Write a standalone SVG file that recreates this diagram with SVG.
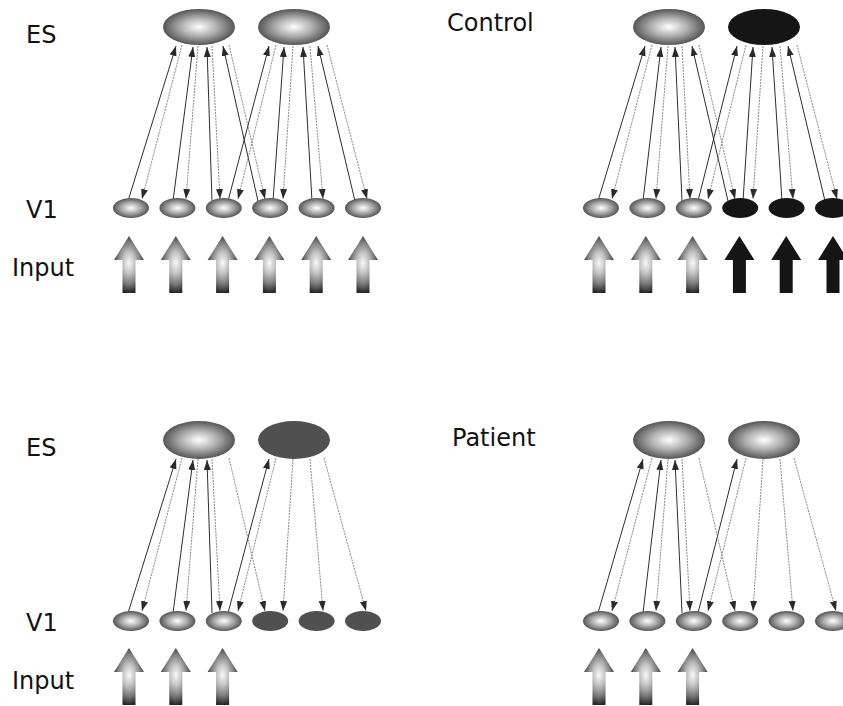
<svg xmlns="http://www.w3.org/2000/svg" xmlns:xlink="http://www.w3.org/1999/xlink" width="843" height="706" viewBox="0 0 843 706">
  <style>
    .lbl { font-family: "DejaVu Sans", "Liberation Sans", sans-serif; font-size: 24px; fill: #111; }
    .sph { fill: url(#sphere); }
    .black { fill: #151515; }
    .dim { fill: #505050; }
    .ff { stroke: #2e2e2e; stroke-width: 1; fill: none; marker-end: url(#tip); }
    .fb { stroke: #7a7a7a; stroke-width: 0.9; stroke-dasharray: 2 1; fill: none; marker-end: url(#tip); }
    .in-shade { fill: url(#arrowShade); }
    .in-black { fill: #151515; }
  </style>
  <defs>
    <radialGradient id="sphere" cx="0.5" cy="0.5" r="0.5">
      <stop offset="0" stop-color="#ffffff"/>
      <stop offset="0.5" stop-color="#b0b0b0"/>
      <stop offset="1" stop-color="#555"/>
    </radialGradient>
    <radialGradient id="arrowShade" gradientUnits="userSpaceOnUse" cx="0" cy="27" r="30" gradientTransform="translate(0,27) scale(0.55,1) translate(0,-27)">
      <stop offset="0" stop-color="#f8f8f8"/>
      <stop offset="0.35" stop-color="#c4c4c4"/>
      <stop offset="0.7" stop-color="#7a7a7a"/>
      <stop offset="1" stop-color="#262626"/>
    </radialGradient>
    <marker id="tip" markerUnits="userSpaceOnUse" markerWidth="11" markerHeight="8" refX="10" refY="3.5" orient="auto">
      <path d="M0,0 L10,3.5 L0,7 Z" fill="#2a2a2a"/>
    </marker>
    <!-- input arrow, tip at the origin -->
    <path id="in-arrow" d="M0,0 L15,24 L6.5,24 L6.5,57 L-6.5,57 L-6.5,24 L-15,24 Z"/>
  </defs>

  <rect width="843" height="706" fill="#fff"/>

  <!-- row labels -->
  <text class="lbl" x="26" y="43">ES</text>
  <text class="lbl" x="26" y="218">V1</text>
  <text class="lbl" x="12" y="276">Input</text>
  <text class="lbl" x="447" y="31">Control</text>
  <text class="lbl" x="26" y="456">ES</text>
  <text class="lbl" x="26" y="631">V1</text>
  <text class="lbl" x="12" y="689">Input</text>
  <text class="lbl" x="452" y="446">Patient</text>

  <!-- connectors: solid = V1 to ES, dashed = ES to V1 -->
  <g id="connectors">
    <g id="conn-a">
      <line class="ff" x1="128" y1="201" x2="176" y2="46"/>
      <line class="ff" x1="173" y1="201" x2="193" y2="47"/>
      <line class="ff" x1="212" y1="201" x2="207" y2="47"/>
      <line class="ff" x1="258" y1="201" x2="223" y2="46"/>
      <line class="ff" x1="228" y1="201" x2="269" y2="46"/>
      <line class="ff" x1="273" y1="201" x2="284" y2="47"/>
      <line class="ff" x1="312" y1="201" x2="303" y2="47"/>
      <line class="ff" x1="355" y1="201" x2="318" y2="46"/>
      <line class="fb" x1="182" y1="45" x2="142" y2="199"/>
      <line class="fb" x1="198" y1="46" x2="186" y2="199"/>
      <line class="fb" x1="212" y1="46" x2="220" y2="199"/>
      <line class="fb" x1="229" y1="45" x2="265" y2="199"/>
      <line class="fb" x1="276" y1="45" x2="238" y2="199"/>
      <line class="fb" x1="293" y1="46" x2="283" y2="199"/>
      <line class="fb" x1="310" y1="46" x2="323" y2="199"/>
      <line class="fb" x1="327" y1="45" x2="367" y2="199"/>
    </g>
    <g id="conn-b" transform="translate(470,0)">
      <line class="ff" x1="128" y1="201" x2="175" y2="46"/>
      <line class="ff" x1="173" y1="201" x2="191" y2="47"/>
      <line class="ff" x1="212" y1="201" x2="205" y2="47"/>
      <line class="ff" x1="258" y1="201" x2="222" y2="46"/>
      <line class="ff" x1="228" y1="201" x2="267" y2="46"/>
      <line class="ff" x1="273" y1="201" x2="283" y2="47"/>
      <line class="ff" x1="312" y1="201" x2="302" y2="47"/>
      <line class="ff" x1="355" y1="201" x2="318" y2="46"/>
      <line class="fb" x1="182" y1="45" x2="142" y2="199"/>
      <line class="fb" x1="198" y1="46" x2="186" y2="199"/>
      <line class="fb" x1="212" y1="46" x2="220" y2="199"/>
      <line class="fb" x1="229" y1="45" x2="265" y2="199"/>
      <line class="fb" x1="276" y1="45" x2="238" y2="199"/>
      <line class="fb" x1="293" y1="46" x2="283" y2="199"/>
      <line class="fb" x1="310" y1="46" x2="323" y2="199"/>
      <line class="fb" x1="327" y1="45" x2="367" y2="199"/>
    </g>
    <g id="conn-c" transform="translate(0,413)">
      <line class="ff" x1="128" y1="200" x2="176" y2="46"/>
      <line class="ff" x1="173" y1="200" x2="193" y2="47"/>
      <line class="ff" x1="212" y1="200" x2="207" y2="47"/>
      <line class="ff" x1="228" y1="200" x2="269" y2="46"/>
      <line class="fb" x1="182" y1="45" x2="142" y2="198"/>
      <line class="fb" x1="198" y1="46" x2="186" y2="198"/>
      <line class="fb" x1="212" y1="46" x2="220" y2="198"/>
      <line class="fb" x1="229" y1="45" x2="265" y2="198"/>
      <line class="fb" x1="276" y1="45" x2="238" y2="198"/>
      <line class="fb" x1="293" y1="46" x2="283" y2="198"/>
      <line class="fb" x1="310" y1="46" x2="323" y2="198"/>
      <line class="fb" x1="324" y1="45" x2="366" y2="198"/>
    </g>
    <g id="conn-d" transform="translate(470,413)">
      <line class="ff" x1="128" y1="200" x2="173" y2="46"/>
      <line class="ff" x1="173" y1="200" x2="191" y2="47"/>
      <line class="ff" x1="212" y1="200" x2="205" y2="47"/>
      <line class="ff" x1="228" y1="200" x2="267" y2="46"/>
      <line class="fb" x1="182" y1="45" x2="142" y2="198"/>
      <line class="fb" x1="198" y1="46" x2="186" y2="198"/>
      <line class="fb" x1="212" y1="46" x2="220" y2="198"/>
      <line class="fb" x1="229" y1="45" x2="265" y2="198"/>
      <line class="fb" x1="276" y1="45" x2="238" y2="198"/>
      <line class="fb" x1="293" y1="46" x2="283" y2="198"/>
      <line class="fb" x1="310" y1="46" x2="323" y2="198"/>
      <line class="fb" x1="324" y1="45" x2="366" y2="198"/>
    </g>
  </g>

  <!-- top-left panel -->
  <g id="a-es1"><ellipse class="sph" cx="199" cy="27" rx="36" ry="18"/></g>
  <g id="a-es2"><ellipse class="sph" cx="294" cy="27" rx="36" ry="18"/></g>
  <g id="a-v1-1"><ellipse class="sph" cx="131" cy="208" rx="18" ry="10"/></g>
  <g id="a-v1-2"><ellipse class="sph" cx="177.4" cy="208" rx="18" ry="10"/></g>
  <g id="a-v1-3"><ellipse class="sph" cx="223.8" cy="208" rx="18" ry="10"/></g>
  <g id="a-v1-4"><ellipse class="sph" cx="270.2" cy="208" rx="18" ry="10"/></g>
  <g id="a-v1-5"><ellipse class="sph" cx="316.6" cy="208" rx="18" ry="10"/></g>
  <g id="a-v1-6"><ellipse class="sph" cx="363" cy="208" rx="18" ry="10"/></g>
  <g id="a-in-1"><use href="#in-arrow" class="in-shade" transform="translate(129,236)"/></g>
  <g id="a-in-2"><use href="#in-arrow" class="in-shade" transform="translate(175.8,236)"/></g>
  <g id="a-in-3"><use href="#in-arrow" class="in-shade" transform="translate(222.6,236)"/></g>
  <g id="a-in-4"><use href="#in-arrow" class="in-shade" transform="translate(269.4,236)"/></g>
  <g id="a-in-5"><use href="#in-arrow" class="in-shade" transform="translate(316.2,236)"/></g>
  <g id="a-in-6"><use href="#in-arrow" class="in-shade" transform="translate(363,236)"/></g>

  <!-- top-right panel -->
  <g id="b-es1"><ellipse class="sph" cx="669" cy="27" rx="36" ry="18"/></g>
  <g id="b-es2"><ellipse class="black" cx="764" cy="27" rx="36" ry="18"/></g>
  <g id="b-v1-1"><ellipse class="sph" cx="601" cy="208" rx="18" ry="10"/></g>
  <g id="b-v1-2"><ellipse class="sph" cx="647.4" cy="208" rx="18" ry="10"/></g>
  <g id="b-v1-3"><ellipse class="sph" cx="693.8" cy="208" rx="18" ry="10"/></g>
  <g id="b-v1-4"><ellipse class="black" cx="740.2" cy="208" rx="18" ry="10"/></g>
  <g id="b-v1-5"><ellipse class="black" cx="786.6" cy="208" rx="18" ry="10"/></g>
  <g id="b-v1-6"><ellipse class="black" cx="833" cy="208" rx="18" ry="10"/></g>
  <g id="b-in-1"><use href="#in-arrow" class="in-shade" transform="translate(599,236)"/></g>
  <g id="b-in-2"><use href="#in-arrow" class="in-shade" transform="translate(645.8,236)"/></g>
  <g id="b-in-3"><use href="#in-arrow" class="in-shade" transform="translate(692.6,236)"/></g>
  <g id="b-in-4"><use href="#in-arrow" class="in-black" transform="translate(739.4,236)"/></g>
  <g id="b-in-5"><use href="#in-arrow" class="in-black" transform="translate(786.2,236)"/></g>
  <g id="b-in-6"><use href="#in-arrow" class="in-black" transform="translate(833,236)"/></g>

  <!-- bottom-left panel -->
  <g id="c-es1"><ellipse class="sph" cx="199" cy="440" rx="36" ry="19"/></g>
  <g id="c-es2"><ellipse class="dim" cx="294" cy="440" rx="36" ry="19"/></g>
  <g id="c-v1-1"><ellipse class="sph" cx="131" cy="621" rx="18" ry="10"/></g>
  <g id="c-v1-2"><ellipse class="sph" cx="177.4" cy="621" rx="18" ry="10"/></g>
  <g id="c-v1-3"><ellipse class="sph" cx="223.8" cy="621" rx="18" ry="10"/></g>
  <g id="c-v1-4"><ellipse class="dim" cx="270.2" cy="621" rx="18" ry="10"/></g>
  <g id="c-v1-5"><ellipse class="dim" cx="316.6" cy="621" rx="18" ry="10"/></g>
  <g id="c-v1-6"><ellipse class="dim" cx="363" cy="621" rx="18" ry="10"/></g>
  <g id="c-in-1"><use href="#in-arrow" class="in-shade" transform="translate(129,648)"/></g>
  <g id="c-in-2"><use href="#in-arrow" class="in-shade" transform="translate(175.8,648)"/></g>
  <g id="c-in-3"><use href="#in-arrow" class="in-shade" transform="translate(222.6,648)"/></g>

  <!-- bottom-right panel -->
  <g id="d-es1"><ellipse class="sph" cx="669" cy="440" rx="36" ry="19"/></g>
  <g id="d-es2"><ellipse class="sph" cx="764" cy="440" rx="36" ry="19"/></g>
  <g id="d-v1-1"><ellipse class="sph" cx="601" cy="621" rx="18" ry="10"/></g>
  <g id="d-v1-2"><ellipse class="sph" cx="647.4" cy="621" rx="18" ry="10"/></g>
  <g id="d-v1-3"><ellipse class="sph" cx="693.8" cy="621" rx="18" ry="10"/></g>
  <g id="d-v1-4"><ellipse class="sph" cx="740.2" cy="621" rx="18" ry="10"/></g>
  <g id="d-v1-5"><ellipse class="sph" cx="786.6" cy="621" rx="18" ry="10"/></g>
  <g id="d-v1-6"><ellipse class="sph" cx="833" cy="621" rx="18" ry="10"/></g>
  <g id="d-in-1"><use href="#in-arrow" class="in-shade" transform="translate(599,648)"/></g>
  <g id="d-in-2"><use href="#in-arrow" class="in-shade" transform="translate(645.8,648)"/></g>
  <g id="d-in-3"><use href="#in-arrow" class="in-shade" transform="translate(692.6,648)"/></g>
</svg>
